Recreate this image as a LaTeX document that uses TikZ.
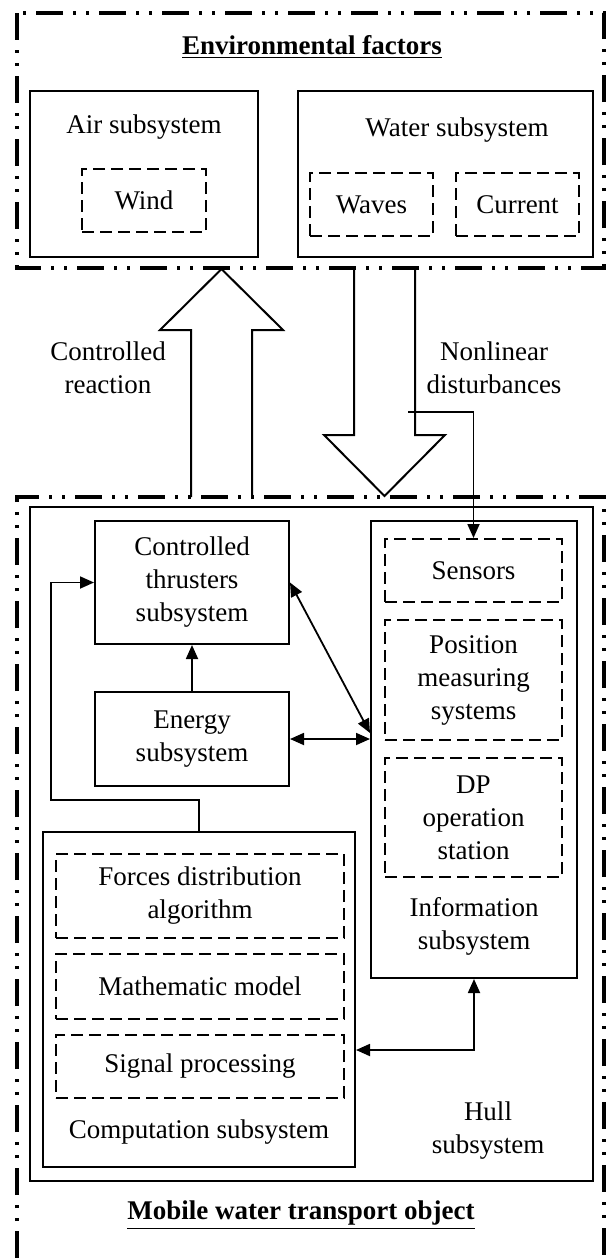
\documentclass[tikz,border=0pt]{standalone}
\usepackage{fontspec}
\setmainfont{Liberation Serif}
\usetikzlibrary{arrows.meta}

\begin{document}
\begin{tikzpicture}[x=.5pt,y=-.5pt,
  every node/.style={font=\fontsize{13.5}{16.5}\selectfont, align=center},
  box/.style={draw, line width=1pt, inner sep=0pt},
  dbox/.style={draw, line width=1pt, dash pattern=on 6pt off 3pt, inner sep=0pt},
  frame/.style={line width=1.6pt, dash pattern=on 13.5pt off 5pt on 1.5pt off 5pt on 1.5pt off 5pt},
  fat/.style={line width=1pt, line join=miter},
  arr/.style={line width=.9pt, -{Triangle[length=7pt,width=6pt]}},
  dbl/.style={line width=.9pt, {Triangle[length=7pt,width=6pt]}-{Triangle[length=7pt,width=6pt]}}]
\useasboundingbox (0,0) rectangle (606,1258);
\draw[frame] (17,13) rectangle (604,268);
\node (envtitle) at (312,47) {\bfseries\underline{Environmental factors}};
\node[box, minimum width=114pt, minimum height=83pt] (air) at (144,174) {};
\node (airlbl) at (144,127) {Air subsystem};
\node[dbox, minimum width=62pt, minimum height=31.5pt] (wind) at (144,200.5) {Wind};
\node[box, minimum width=147.5pt, minimum height=83pt] (water) at (445.5,174) {};
\node (waterlbl) at (457,130) {Water subsystem};
\node[dbox, minimum width=61.5pt, minimum height=31.5pt] (waves) at (371.5,204.5) {Waves};
\node[dbox, minimum width=61.5pt, minimum height=31.5pt] (current) at (517.5,204.5) {Current};

\draw[fat] (191,497) -- (191,330) -- (160,330) -- (221.5,269) -- (283,330) -- (252,330) -- (252,497);
\draw[fat] (354,268) -- (354,435) -- (324,435) -- (384.5,496) -- (445,435) -- (415,435) -- (415,268);
\node (reaction) at (108,368) {Controlled\\reaction};
\node (disturb) at (494,368) {Nonlinear\\disturbances};

\draw[frame] (17,1258) -- (17,497) -- (604,497) -- (604,1258);
\node[box, minimum width=281.5pt, minimum height=337pt] (hull) at (311.5,844) {};
\node (hulllbl) at (488,1131) {Hull\\subsystem};
\node (mobtitle) at (301,1215) {\bfseries\underline{Mobile water transport object}};

\node[box, minimum width=97pt, minimum height=61.5pt] (thr) at (192,582.5) {Controlled\\thrusters\\subsystem};
\node[box, minimum width=97pt, minimum height=47pt] (energy) at (192,739) {Energy\\subsystem};

\node[box, minimum width=103pt, minimum height=228.5pt] (info) at (474,749.5) {};
\node (infolbl) at (474,926) {Information\\subsystem};
\node[dbox, minimum width=88.5pt, minimum height=31.5pt] (sensors) at (473.5,570.5) {Sensors};
\node[dbox, minimum width=88.5pt, minimum height=60pt] (posm) at (473.5,680) {Position\\measuring\\systems};
\node[dbox, minimum width=88.5pt, minimum height=59.5pt] (dp) at (473.5,817.5) {DP\\operation\\station};

\node[box, minimum width=156pt, minimum height=167.5pt] (comp) at (199,999.5) {};
\node (complbl) at (199,1132) {Computation subsystem};
\node[dbox, minimum width=144pt, minimum height=42pt] (forces) at (200,896) {Forces distribution\\algorithm};
\node[dbox, minimum width=144pt, minimum height=32.5pt] (math) at (200,986.5) {Mathematic model};
\node[dbox, minimum width=144pt, minimum height=31.5pt] (signal) at (200,1066.5) {Signal processing};

\coordinate (dist) at (408,412);
\draw[arr] (dist) -| (sensors.north);
\draw[arr] (energy) -- (thr);
\draw[arr] (comp.north) |- (51,800) |- (thr.west);
\draw[dbl] (thr.east) -- (info.west |- 0,733);
\draw[dbl] (energy.east) -- (energy.east -| info.west);
\draw[dbl] (comp.east |- 0,1050) -| (info.south);
\end{tikzpicture}
\end{document}
